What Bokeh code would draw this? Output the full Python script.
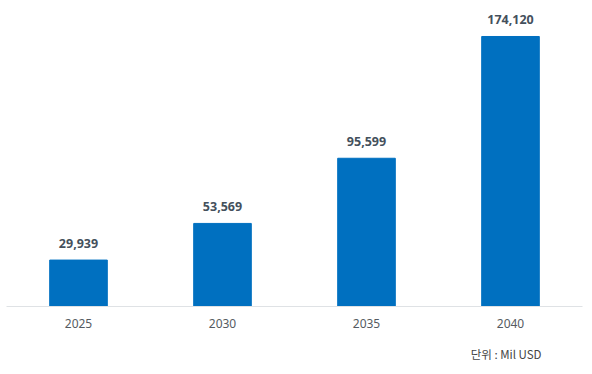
from bokeh.plotting import figure
from bokeh.models import ColumnDataSource, Range1d, Title, LabelSet
from bokeh.core.properties import value
from bokeh.embed import file_html
from bokeh.resources import INLINE

years = ["2025", "2030", "2035", "2040"]
values = [29939, 53569, 95599, 174120]
value_labels = ["29,939", "53,569", "95,599", "174,120"]
unit_text = "단위 : Mil USD"

src = ColumnDataSource(dict(x=years, top=values, lab=value_labels))

p = figure(x_range=years, y_range=Range1d(0, 195400), width=588, height=374,
           output_backend="svg", toolbar_location=None,
           min_border_top=3, min_border_left=6, min_border_right=6, min_border_bottom=30)
p.vbar(x="x", top="top", width=0.4, color="#0070C0", source=src)

labels = LabelSet(x="x", y="top", text="lab", source=src, text_align="center",
                  text_baseline="bottom", y_offset=12, text_font_size="12.5px",
                  text_font_style="bold", text_color="#44505c", text_font=value("Noto Sans"))
p.add_layout(labels)

p.yaxis.visible = False
p.xgrid.visible = False
p.ygrid.visible = False
p.outline_line_color = None
p.xaxis.axis_line_color = "#dfe2e5"
p.xaxis.major_tick_line_color = None
p.xaxis.minor_tick_line_color = None
p.xaxis.major_label_text_font = "Noto Sans"
p.xaxis.major_label_text_font_size = "12px"
p.xaxis.major_label_text_color = "#555b62"
p.xaxis.major_label_standoff = 6
p.x_range.range_padding = 0

t = Title(text=unit_text, align="right", text_font="Noto Sans CJK KR",
          text_font_size="11.5px", text_font_style="normal", text_color="#444444",
          offset=41, standoff=26)
p.add_layout(t, "below")

open("out.html", "w").write(file_html(p, INLINE))
